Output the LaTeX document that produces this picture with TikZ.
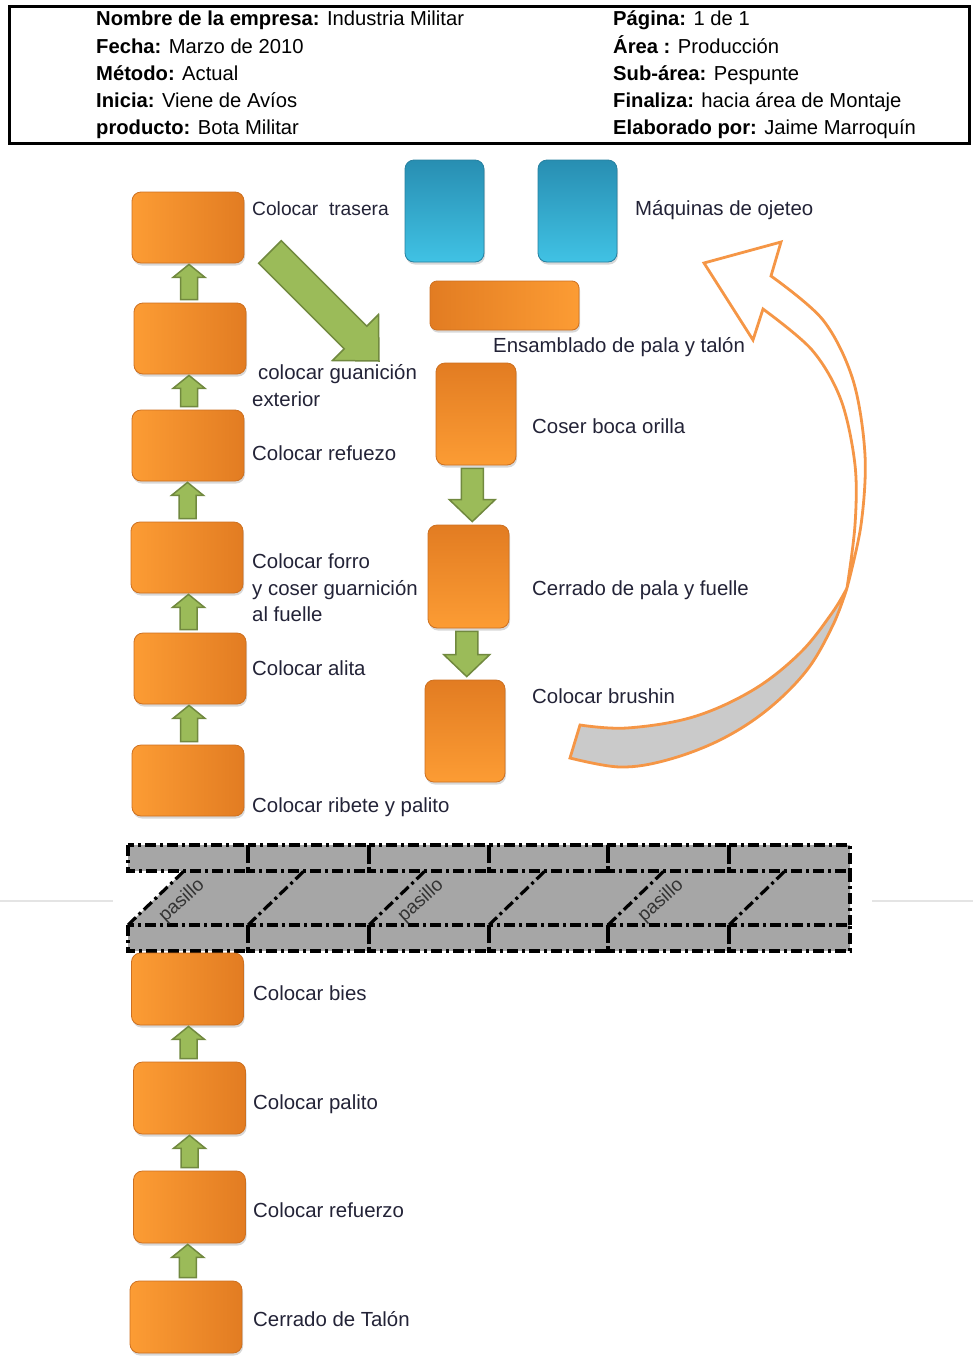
\documentclass[tikz,border=0pt]{standalone}
\usepackage{fontspec}
\setmainfont{Liberation Sans}
\usetikzlibrary{calc,shadows}

\definecolor{orgL}{RGB}{252,156,52}
\definecolor{orgD}{RGB}{226,124,34}
\definecolor{orgEdge}{RGB}{205,112,32}
\definecolor{blueD}{RGB}{40,142,178}
\definecolor{blueL}{RGB}{64,194,228}
\definecolor{blueEdge}{RGB}{38,128,160}
\definecolor{grnF}{RGB}{155,187,89}
\definecolor{grnE}{RGB}{113,137,63}
\definecolor{ringE}{RGB}{245,150,70}
\definecolor{ringG}{RGB}{202,202,202}
\definecolor{hall}{RGB}{166,166,166}
\definecolor{txt}{RGB}{35,35,55}
\definecolor{sep}{RGB}{228,228,228}

% block arrow pointing up, from the top of #1 to the bottom of #2
\newcommand\greenup[2]{%
  \path[garrow] let \p1=($(#1.north)!0.5!(#2.south)$), \p2=(#1.north), \p3=(#2.south) in
    ({\x1-8.5pt},{\y2+3pt}) -- ({\x1+8.5pt},{\y2+3pt}) -- ({\x1+8.5pt},{\y3-14pt})
    -- ({\x1+16pt},{\y3-14pt}) -- ({\x1},{\y3-1pt}) -- ({\x1-16pt},{\y3-14pt})
    -- ({\x1-8.5pt},{\y3-14pt}) -- cycle;}
% block arrow pointing down, from the bottom of #1 to the top of #2
\newcommand\greendown[2]{%
  \path[garrow] let \p1=($(#1.south)!0.5!(#2.north)$), \p2=(#1.south), \p3=(#2.north) in
    ({\x1-11pt},{\y2-3pt}) -- ({\x1+11pt},{\y2-3pt}) -- ({\x1+11pt},{\y3+25pt})
    -- ({\x1+23pt},{\y3+25pt}) -- ({\x1},{\y3+3pt}) -- ({\x1-23pt},{\y3+25pt})
    -- ({\x1-11pt},{\y3+25pt}) -- cycle;}

\begin{document}
\begin{tikzpicture}[x=1pt,y=-1pt,
  box/.style={rounded corners=9pt, draw=orgEdge, line width=0.8pt, inner sep=0pt,
    drop shadow={shadow xshift=1pt, shadow yshift=-2.5pt, opacity=0.3}},
  hbox/.style={box, left color=orgL, right color=orgD, minimum width=112pt, minimum height=71pt},
  vbox/.style={box, top color=orgD, bottom color=orgL, minimum width=80pt, minimum height=102pt},
  bbox/.style={box, draw=blueEdge, top color=blueD, bottom color=blueL, minimum width=79pt, minimum height=102pt},
  lbl/.style={anchor=base west, inner sep=0pt, text=txt, font=\fontsize{20.4}{24}\selectfont},
  hd/.style={anchor=base west, inner sep=0pt, font=\fontsize{20.2}{24}\selectfont},
  garrow/.style={fill=grnF, draw=grnE, line width=1.5pt, line join=miter},
  hallline/.style={line width=3.2pt, dash pattern=on 11pt off 4pt on 3pt off 4pt},
  aisle/.style={rotate=42, inner sep=0pt, font=\fontsize{19}{22}\selectfont, text=black!80},
  ring/.style={draw=ringE, line width=2.8pt, line join=miter},
]
\useasboundingbox (0,0) rectangle (973,1363);
\fill[white] (0,0) rectangle (973,1363);

% ---------- header ----------
\node[draw, line width=3pt, minimum width=960pt, minimum height=137pt, anchor=north west, inner sep=0pt] (hdr) at (8,5) {};
\node[hd] (h1) at (96,25) {\textbf{Nombre de la empresa:} Industria Militar};
\node[hd] (h2) at (96,53) {\textbf{Fecha:} Marzo de 2010};
\node[hd] (h3) at (96,80) {\textbf{Método:} Actual};
\node[hd] (h4) at (96,107) {\textbf{Inicia:} Viene de Avíos};
\node[hd] (h5) at (96,134) {\textbf{producto:} Bota Militar};
\node[hd] (h6) at (613,25) {\textbf{Página:} 1 de 1};
\node[hd] (h7) at (613,53) {\textbf{Área :} Producción};
\node[hd] (h8) at (613,80) {\textbf{Sub-área:} Pespunte};
\node[hd] (h9) at (613,107) {\textbf{Finaliza:} hacia área de Montaje};
\node[hd] (h10) at (613,134) {\textbf{Elaborado por:} Jaime Marroquín};

% ---------- left column (upper) ----------
\node[hbox] (L1) at (188,227.5) {};
\node[hbox] (L2) at (190,338.5) {};
\node[hbox] (L3) at (188,445.5) {};
\node[hbox] (L4) at (187,557.5) {};
\node[hbox] (L5) at (190,668.5) {};
\node[hbox] (L6) at (188,780.5) {};
\greenup{L2}{L1}
\greenup{L3}{L2}
\greenup{L4}{L3}
\greenup{L5}{L4}
\greenup{L6}{L5}

\node[lbl, font=\fontsize{19.2}{24}\selectfont] (tL1) at (252,215) {Colocar\ \ trasera};
\node[lbl] (tL2a) at (258,379) {colocar guanición};
\node[lbl] (tL2b) at (252,406) {exterior};
\node[lbl] (tL3) at (252,460) {Colocar refuezo};
\node[lbl] (tL4a) at (252,568) {Colocar forro};
\node[lbl] (tL4b) at (252,595) {y coser guarnición};
\node[lbl] (tL4c) at (252,621) {al fuelle};
\node[lbl] (tL5) at (252,675) {Colocar alita};
\node[lbl] (tL6) at (252,812) {Colocar ribete y palito};

% diagonal transfer arrow
\path[garrow] (281.3,240.7) -- (366.8,326.2) -- (378.5,314.5) -- (379,361)
  -- (332.5,360.5) -- (344.2,348.8) -- (258.7,263.3) -- cycle;

% ---------- machines and right column ----------
\node[bbox] (M1) at (444.5,211) {};
\node[bbox] (M2) at (577.5,211) {};
\node[lbl] (tM) at (635,215) {Máquinas de ojeteo};

\node[box, left color=orgD, right color=orgL, minimum width=149pt, minimum height=49pt, rounded corners=7pt] (W) at (504.5,305.5) {};
\node[lbl] (tW) at (493,352) {Ensamblado de pala y talón};

\node[vbox] (R1) at (476,414) {};
\node[vbox, minimum width=81pt, minimum height=103pt] (R2) at (468.5,576.5) {};
\node[vbox] (R3) at (465,731) {};
\greendown{R1}{R2}
\greendown{R2}{R3}
\node[lbl] (tR1) at (532,433) {Coser boca orilla};
\node[lbl] (tR2) at (532,595) {Cerrado de pala y fuelle};
\node[lbl] (tR3) at (532,703) {Colocar brushin};

% return arrow: front face
\path[ring, fill=white] (704,263) -- (781,242) -- (771,276)
  -- plot[smooth, tension=0.55] coordinates {(771,276) (823,320) (853,380) (865,455) (861,525) (847,588)}
  -- plot[smooth, tension=0.55] coordinates {(847,588) (855,525) (855,465) (841,400) (812,350) (763,309)}
  -- (753,340) -- cycle;
% return arrow: back face
\path[ring, fill=ringG] (847,588)
  -- plot[smooth, tension=0.6] coordinates {(847,588) (833,625) (807,670) (767,710) (720,740) (667,760) (620,767) (570,758)}
  -- (580,725)
  -- plot[smooth, tension=0.6] coordinates {(580,725) (627,728) (693,717) (753,690) (800,653) (832,613) (847,588)}
  -- cycle;

% ---------- corridor ----------
\draw[sep, line width=1.5pt] (0,901) -- (113,901);
\draw[sep, line width=1.5pt] (872,901) -- (973,901);
\fill[hall] (128,845) rectangle (850,871);
\fill[hall] (128,925) -- (184,871) -- (850,871) -- (850,925) -- cycle;
\fill[hall] (128,925) rectangle (850,951);
\foreach \a/\b in {128/248,248/369,369/489,489/608,608/729,729/850}{
  \draw[hallline] (\a,845) rectangle (\b,871);
  \draw[hallline] (\a,925) rectangle (\b,951);
  \draw[hallline] (\a,925) -- ++(56,-54);
}
\draw[hallline] (850,871) -- (850,925);
\node[aisle] (p1) at (182,901) {pasillo};
\node[aisle] (p2) at (421,901) {pasillo};
\node[aisle] (p3) at (661,901) {pasillo};

% ---------- left column (lower) ----------
\node[hbox, minimum height=72pt] (B1) at (187.5,989) {};
\node[hbox, minimum height=72pt] (B2) at (189.5,1098) {};
\node[hbox, minimum height=72pt] (B3) at (189.5,1207) {};
\node[hbox, minimum height=72pt] (B4) at (186,1317) {};
\greenup{B2}{B1}
\greenup{B3}{B2}
\greenup{B4}{B3}
\node[lbl] (tB1) at (253,1000) {Colocar bies};
\node[lbl] (tB2) at (253,1109) {Colocar palito};
\node[lbl] (tB3) at (253,1217) {Colocar refuerzo};
\node[lbl] (tB4) at (253,1326) {Cerrado de Talón};
\end{tikzpicture}
\end{document}
